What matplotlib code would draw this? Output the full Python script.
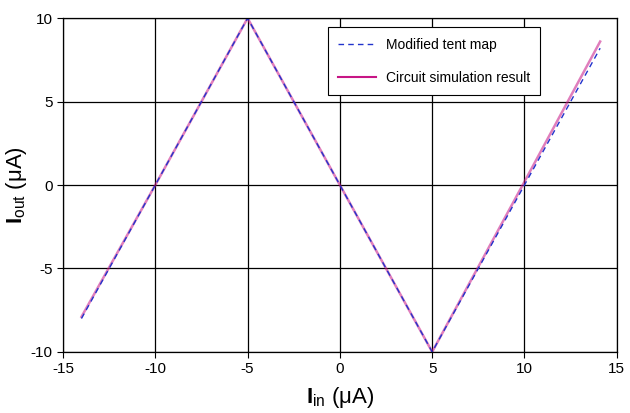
import matplotlib
matplotlib.use("Agg")
import matplotlib.pyplot as plt

plt.rcParams['font.family'] = ['Liberation Sans', 'DejaVu Sans']
plt.rcParams['mathtext.fontset'] = 'custom'
plt.rcParams['mathtext.rm'] = 'Liberation Sans'
plt.rcParams['mathtext.bf'] = 'Liberation Sans:bold'
plt.rcParams['axes.unicode_minus'] = False

# breakpoints of the two curves
tent_x = [-14, -10, -5, 0, 5, 10, 14.1]
tent_y = [-8, 0, 10, 0, -10, 0, 8.2]
circ_x = [-14, -10, -5, 0, 5, 10, 14.1]
circ_y = [-7.9, 0, 10, 0, -10, 0.2, 8.6]

x_ticks = [-15, -10, -5, 0, 5, 10, 15]
y_ticks = [-10, -5, 0, 5, 10]

fig = plt.figure(figsize=(6.3, 4.13), dpi=100)
ax = fig.add_axes([0.1, 0.148, 0.879, 0.808])

ax.plot(circ_x, circ_y, color='#c71585', lw=1.8, alpha=0.55)
ax.plot(tent_x, tent_y, color='#2233cc', lw=1.0, ls=(0, (4, 3)))

# legend handles drawn without data
h1, = ax.plot([], [], color='#2233cc', lw=1.0, ls=(0, (4, 3)), label='Modified tent map')
h2, = ax.plot([], [], color='#c71585', lw=1.5, label='Circuit simulation result')
leg = ax.legend(handles=[h1, h2], loc='upper left', bbox_to_anchor=(0.466, 0.993),
                fancybox=False, framealpha=1, edgecolor='black', fontsize=10,
                labelspacing=1.35, borderpad=0.75, handlelength=2.7, handletextpad=0.7)
leg.get_frame().set_linewidth(0.8)

ax.set_xlim(-15, 15)
ax.set_ylim(-10, 10)
ax.set_xticks(x_ticks)
ax.set_yticks(y_ticks)
ax.grid(True, color='black', lw=0.9)
ax.tick_params(direction='out', length=4, labelsize=11, color='black')
for s in ax.spines.values():
    s.set_color('black')
    s.set_linewidth(0.9)

ax.set_xlabel(r'$\mathbf{I}_{\mathrm{in}}$ ($\mathrm{\mu}$A)', fontsize=16, labelpad=6)
ax.set_ylabel(r'$\mathbf{I}_{\mathrm{out}}$ ($\mathrm{\mu}$A)', fontsize=16, labelpad=1)

fig.savefig('out.png', dpi=100)
